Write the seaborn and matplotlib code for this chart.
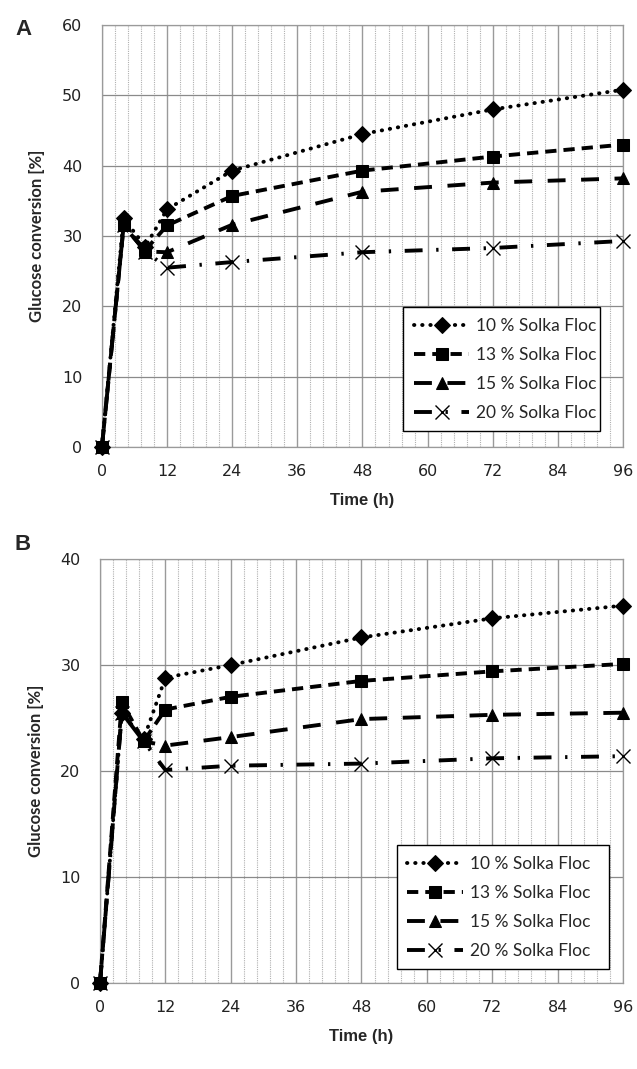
import numpy as np
import pandas as pd
import matplotlib
matplotlib.use("Agg")
import matplotlib.pyplot as plt
import seaborn as sns
from matplotlib.ticker import MultipleLocator

# ---- data ----
times = [0, 4, 8, 12, 24, 48, 72, 96]
series_names = ["10 % Solka Floc", "13 % Solka Floc", "15 % Solka Floc", "20 % Solka Floc"]

a_10 = [0, 32.5, 28.5, 33.8, 39.3, 44.5, 48.0, 50.8]
a_13 = [0, 31.5, 28.0, 31.5, 35.7, 39.3, 41.3, 43.0]
a_15 = [0, 31.5, 27.8, 27.7, 31.6, 36.3, 37.6, 38.2]
a_20 = [0, 31.5, 27.8, 25.5, 26.3, 27.7, 28.3, 29.3]

b_10 = [0, 25.5, 23.0, 28.8, 30.0, 32.6, 34.4, 35.6]
b_13 = [0, 26.5, 22.8, 25.8, 27.0, 28.5, 29.4, 30.1]
b_15 = [0, 25.5, 22.8, 22.4, 23.2, 24.9, 25.3, 25.5]
b_20 = [0, 25.5, 22.8, 20.1, 20.5, 20.7, 21.2, 21.4]

x_ticks = [0, 12, 24, 36, 48, 60, 72, 84, 96]

sns.set_theme(style="white")
plt.rcParams['font.family'] = ['DejaVu Sans']

styles = [
    dict(linestyle=(0, (0.1, 2.0)), marker="D", markersize=8, dash_capstyle="round"),
    dict(linestyle=(0, (2.9, 1.8)), marker="s", markersize=9),
    dict(linestyle=(0, (4.6, 4.0)), marker="^", markersize=9),
    dict(linestyle=(0, (4.6, 3.5, 0.6, 3.5)), marker="x", markersize=10, markeredgewidth=1.0),
]

fig = plt.figure(figsize=(6.37, 10.69), dpi=100)
axA = fig.add_axes([0.160, 0.5818, 0.818, 0.3948])
axB = fig.add_axes([0.157, 0.0804, 0.821, 0.3967])

def draw(ax, data, ymax, legend_bbox):
    for name, vals, st in zip(series_names, data, styles):
        df = pd.DataFrame({"Time": times, "val": vals})
        sns.lineplot(data=df, x="Time", y="val", ax=ax, color="black", linewidth=2.8,
                     label=name, markeredgecolor="black", markerfacecolor="black",
                     clip_on=False, zorder=3, **st)
    ax.set_xlim(0, 96)
    ax.set_ylim(0, ymax)
    ax.set_xticks(x_ticks)
    ax.xaxis.set_minor_locator(MultipleLocator(2.4))
    ax.yaxis.set_major_locator(MultipleLocator(10))
    ax.grid(which="major", axis="x", color="#9a9a9a", linewidth=1.0, linestyle="-")
    ax.grid(which="minor", axis="x", color="#b0b0b0", linewidth=0.8, linestyle=(0, (1, 1)))
    ax.grid(which="major", axis="y", color="#8a8a8a", linewidth=0.9, linestyle="-")
    ax.set_axisbelow(True)
    for s in ax.spines.values():
        s.set_color("#9a9a9a")
        s.set_linewidth(0.9)
    ax.tick_params(axis="both", which="both", length=0, labelsize=11.5, colors="#222222")
    ax.tick_params(axis="x", pad=12)
    ax.tick_params(axis="y", pad=14)
    ax.set_xlabel("Time (h)", fontsize=12, fontweight="bold", family="Liberation Sans", labelpad=10)
    ax.set_ylabel("Glucose conversion [%]", fontsize=12, fontweight="bold", family="Lato", labelpad=12)
    leg = ax.legend(loc="lower left", bbox_to_anchor=legend_bbox, mode="expand",
                    prop={"family": "Lato", "size": 12.5}, frameon=True, fancybox=False,
                    handlelength=3.2, labelspacing=0.75, borderpad=0.6, handletextpad=0.4)
    leg.get_frame().set_edgecolor("black")
    leg.get_frame().set_linewidth(1.0)
    leg.get_frame().set_alpha(1)
    leg.set_zorder(5)

draw(axA, [a_10, a_13, a_15, a_20], 60, (0.562, 0.017, 0.411, 0.315))
draw(axB, [b_10, b_13, b_15, b_20], 40, (0.551, 0.012, 0.439, 0.308))

fig.text(15 / 637, 1 - 35 / 1069, "A", fontsize=16, fontweight="bold", family="Liberation Sans")
fig.text(15 / 637, 1 - 550 / 1069, "B", fontsize=16, fontweight="bold", family="Liberation Sans")

fig.savefig("out.png", dpi=100)
